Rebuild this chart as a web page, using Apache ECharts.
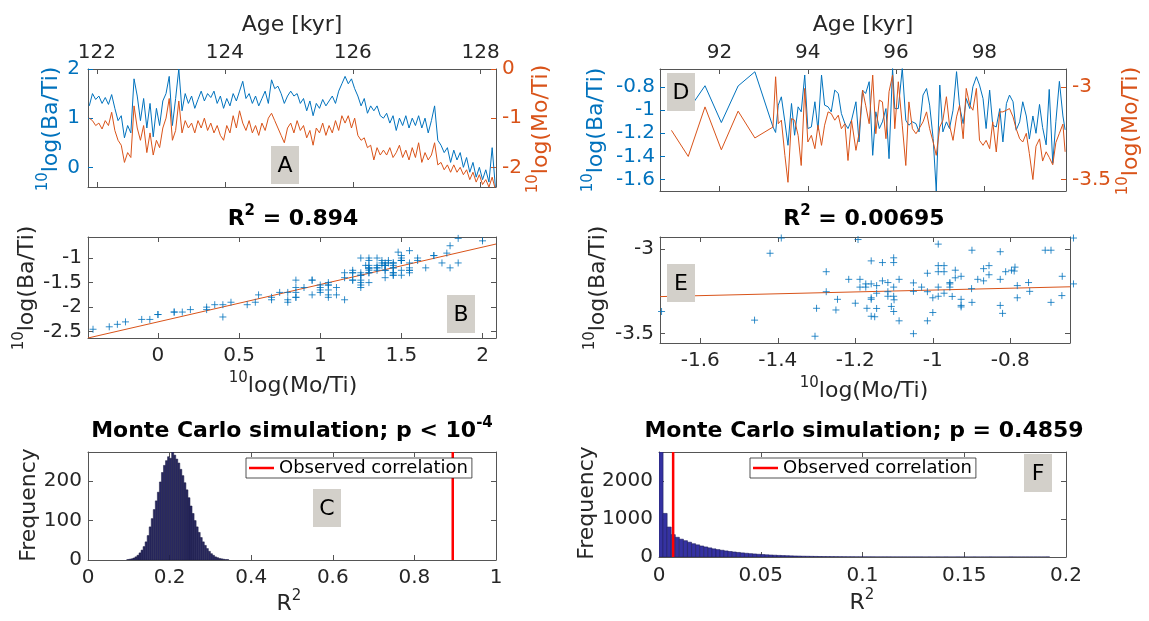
<!DOCTYPE html>
<html><head><meta charset="utf-8">
<script src="https://cdn.jsdelivr.net/npm/echarts@6/dist/echarts.min.js"></script>
<style>html,body{margin:0;padding:0;background:#fff}#c{width:1149px;height:621px}</style>
</head><body><div id="c"></div>
<script>
// ---------- Panel A: time series 121.9-128.2 kyr ----------
const ageA = [121.88,121.93,121.98,122.03,122.08,122.13,122.18,122.23,122.28,122.33,
122.38,122.43,122.48,122.53,122.58,122.63,122.68,122.73,122.78,122.83,
122.88,122.93,122.98,123.03,123.08,123.13,123.18,123.23,123.28,123.33,
123.38,123.43,123.48,123.53,123.58,123.63,123.68,123.73,123.78,123.83,
123.88,123.93,123.98,124.03,124.08,124.13,124.18,124.23,124.28,124.33,
124.38,124.43,124.48,124.53,124.58,124.63,124.68,124.73,124.78,124.83,
124.88,124.93,124.98,125.03,125.08,125.13,125.18,125.23,125.28,125.33,
125.38,125.43,125.48,125.53,125.58,125.63,125.68,125.73,125.78,125.83,
125.88,125.93,125.98,126.03,126.08,126.13,126.18,126.23,126.28,126.33,
126.38,126.43,126.48,126.53,126.58,126.63,126.68,126.73,126.78,126.83,
126.88,126.93,126.98,127.03,127.08,127.13,127.18,127.23,127.28,127.33,
127.38,127.43,127.48,127.53,127.58,127.63,127.68,127.73,127.78,127.83,
127.88,127.93,127.98,128.03,128.08,128.13,128.18,128.23];
const baA = [1.25,1.50,1.38,1.45,1.30,1.42,1.28,1.48,1.20,0.95,
1.05,0.60,0.85,0.70,1.80,1.45,0.95,1.40,0.80,1.30,
0.62,1.20,0.85,1.35,1.50,1.85,0.85,1.40,2.00,1.15,
1.50,1.30,1.45,1.20,1.38,1.55,1.35,1.50,1.42,1.55,
1.30,1.45,1.20,1.40,1.25,1.50,1.35,1.55,1.75,1.40,
1.50,1.30,1.45,1.25,1.40,1.55,1.30,1.78,1.60,1.65,
1.50,1.30,1.45,1.55,1.45,1.50,1.30,1.40,1.15,1.35,
1.05,1.30,1.20,1.38,1.25,1.35,1.45,1.30,1.55,1.70,
1.85,1.70,1.80,1.60,1.45,1.25,1.40,1.10,1.25,1.15,
1.25,1.05,1.00,1.10,0.90,1.05,0.75,1.00,0.85,1.05,
0.80,1.00,0.85,1.05,0.80,1.00,0.70,0.95,1.25,0.55,
0.45,0.30,0.40,0.10,0.35,0.15,0.30,0.00,0.20,-0.10,
0.10,-0.20,0.00,-0.25,-0.05,-0.30,0.40,-0.40];
const moA = [-1.00,-1.05,-1.15,-1.10,-1.22,-1.05,-1.15,-0.88,-1.25,-1.45,
-1.55,-1.90,-1.70,-1.80,-0.75,-1.20,-1.45,-1.15,-1.70,-1.30,
-1.75,-1.45,-1.60,-1.20,-1.00,-0.60,-1.45,-1.25,-0.65,-1.30,
-1.05,-1.20,-1.10,-1.30,-1.05,-1.20,-1.00,-1.25,-1.10,-1.30,
-1.15,-1.35,-1.45,-1.15,-1.30,-0.95,-1.20,-0.85,-1.10,-1.25,
-1.05,-1.30,-1.15,-1.35,-1.10,-1.25,-1.00,-0.90,-1.05,-1.20,
-1.35,-1.50,-1.20,-1.10,-1.30,-1.05,-1.25,-1.15,-1.40,-1.25,
-1.55,-1.20,-1.30,-1.10,-1.35,-1.15,-1.30,-1.05,-1.25,-0.95,
-1.10,-0.95,-1.20,-1.00,-1.35,-1.45,-1.40,-1.60,-1.55,-1.85,
-1.60,-1.75,-1.65,-1.75,-1.60,-1.80,-1.70,-1.55,-1.80,-1.65,
-1.85,-1.60,-1.80,-1.50,-1.90,-1.70,-1.85,-1.75,-1.50,-1.95,
-1.90,-2.05,-1.95,-2.10,-1.95,-2.10,-2.00,-2.15,-2.05,-2.25,
-2.10,-2.30,-2.15,-2.35,-2.25,-2.40,-2.20,-2.45];

// ---------- Panel D: time series 90.9-99.8 kyr ----------
const ageD = [90.91,91.29,91.67,92.04,92.42,92.80,93.21,
93.27,93.33,93.40,93.48,93.55,93.63,93.70,93.78,93.85,93.93,94.00,94.08,94.16,94.23,94.31,94.38,94.46,94.53,
94.61,94.69,94.76,94.84,94.91,94.99,95.09,95.16,95.24,95.31,95.39,95.47,95.54,95.62,95.69,95.77,95.84,95.92,95.97,
96.05,96.14,96.22,96.29,96.37,96.45,96.52,96.61,96.69,96.76,96.84,96.91,96.99,97.06,97.14,97.21,97.29,97.37,97.44,
97.52,97.59,97.67,97.74,97.82,97.89,97.97,98.04,98.12,98.19,98.27,98.35,98.42,98.50,98.57,98.65,98.72,98.80,98.87,
98.95,99.02,99.10,99.17,99.25,99.32,99.40,99.47,99.55,99.62,99.70,99.78,99.83];
const baD = [-0.90,-1.00,-0.788,-1.107,-0.79,-0.667,-1.145,
-1.193,-0.956,-0.884,-1.101,-1.304,-0.942,-1.217,-0.971,-1.014,-0.695,-1.159,-1.145,-0.927,-1.173,-0.695,-0.956,-0.971,-1.014,
-0.826,-0.855,-1.029,-1.116,-1.159,-1.087,-0.927,-1.275,-0.826,-0.855,-0.753,-1.391,-1.014,-1.159,-1.101,-0.986,-1.42,-0.637,-0.986,
-0.986,-0.637,-1.087,-1.13,-1.101,-1.116,-1.188,-0.869,-0.812,-0.956,-1.246,-1.70,-0.782,-1.188,-1.101,-1.159,-1.0,-0.666,-0.971,
-1.116,-0.899,-0.986,-0.797,-0.71,-0.782,-0.899,-1.159,-0.826,-1.13,-1.145,-0.986,-1.275,-0.942,-0.869,-0.927,-1.173,-1.101,-0.927,
-1.05,-1.25,-1.05,-1.20,-0.95,-1.15,-1.30,-0.82,-1.46,-1.10,-0.75,-1.05,-1.17];
const moD = [-3.234,-3.375,-3.107,-3.339,-3.13,-3.275,-3.216,
-2.944,-3.198,-3.179,-3.369,-3.515,-3.17,-3.179,-3.261,-3.424,-3.007,-3.297,-3.261,-3.333,-3.206,-3.315,-3.206,-3.134,-3.143,
-3.179,-3.152,-3.225,-3.198,-3.397,-3.179,-3.342,-3.252,-3.016,-3.098,-3.198,-2.935,-3.252,-3.07,-3.08,-3.279,-3.025,-2.935,-3.225,
-2.971,-3.206,-3.424,-3.08,-3.225,-3.252,-3.225,-3.188,-3.134,-3.225,-3.297,-3.369,-3.216,-3.179,-3.052,-3.206,-3.288,-3.161,-3.098,
-3.279,-3.007,-3.098,-3.125,-3.007,-3.288,-3.315,-3.288,-3.333,-3.188,-3.351,-3.134,-3.134,-3.125,-3.116,-3.161,-3.225,-3.279,-3.297,
-3.25,-3.36,-3.50,-3.32,-3.28,-3.40,-3.35,-3.38,-3.42,-3.30,-3.25,-3.20,-3.35];

// ---------- Panels B / E: least-squares fit lines (end points) ----------
const fitB = [[-0.431,-2.628],[2.083,-0.715]];
const fitE = [[-1.704,-3.281],[-0.646,-3.223]];
const r2B = '0.894', r2E = '0.00695';

// ---------- Panel C: Monte Carlo histogram ----------
const binsC = [0.095,0.100,0.105,0.110,0.115,0.120,0.125,0.130,0.135,0.140,
0.145,0.150,0.155,0.160,0.165,0.170,0.175,0.180,0.185,0.190,
0.195,0.200,0.205,0.210,0.215,0.220,0.225,0.230,0.235,0.240,
0.245,0.250,0.255,0.260,0.265,0.270,0.275,0.280,0.285,0.290,
0.295,0.300,0.305,0.310,0.315,0.320,0.325,0.330,0.335,0.340];
const binWidthC = 0.005;
const countsC = [1,2,3,5,8,12,18,25,34,46,
62,84,105,128,150,172,198,222,240,252,
262,258,274,266,256,246,230,214,196,178,
158,137,118,100,84,70,57,46,37,29,
22,16,12,8,6,4,3,2,1,1];
const obsC = 0.894;

// ---------- Panel F: Monte Carlo histogram ----------
const binsF = [0,0.002,0.004,0.006,0.008,0.010,0.012,0.014,0.016,0.018,
0.020,0.022,0.024,0.026,0.028,0.030,0.032,0.034,0.036,0.038,
0.040,0.042,0.044,0.046,0.048,0.050,0.052,0.054,0.056,0.058,
0.060,0.062,0.064,0.066,0.068,0.070,0.072,0.074,0.076,0.078,
0.080,0.082,0.084,0.086,0.088,0.090,0.092,0.094,0.096,0.098,
0.100,0.102,0.104,0.106,0.108,0.110,0.112,0.114,0.116,0.118,
0.120,0.122,0.124,0.126,0.128,0.130,0.132,0.134,0.136,0.138,
0.140,0.142,0.144,0.146,0.148,0.150,0.152,0.154,0.156,0.158,
0.160,0.162,0.164,0.166,0.168,0.170,0.172,0.174,0.176,0.178,
0.180,0.182,0.184,0.186,0.188,0.190];
const binWidthF = 0.002;
const countsF = [2770,1150,790,590,520,470,430,390,350,320,
290,265,240,215,195,178,160,145,132,120,
108,98,88,80,72,65,58,52,47,42,
38,34,30,27,24,21,19,17,15,13,
11,10,9,8,7,6,5,5,4,4,
3,3,3,2,2,2,2,1,1,1,
1,1,1,1,1,0,1,0,1,0,
1,0,0,1,0,0,0,1,0,0,
0,1,0,0,0,0,1,0,0,0,
0,0,0,0,0,1];
const obsF = 0.00695;
const pF = '0.4859';

// ---------- tick values ----------
const ticksAgeA = [122,124,126,128], ticksBaA = [0,1,2], ticksMoA = [-2,-1,0];
const ticksAgeD = [92,94,96,98], ticksBaD = [-1.6,-1.4,-1.2,-1,-0.8], ticksMoD = [-3.5,-3];
const ticksBx = [0,0.5,1,1.5,2], ticksBy = [-2.5,-2,-1.5,-1];
const ticksEx = [-1.6,-1.4,-1.2,-1,-0.8], ticksEy = [-3.5,-3];
const ticksCx = [0,0.2,0.4,0.6,0.8,1], ticksCy = [0,100,200];
const ticksFx = [0,0.05,0.1,0.15,0.2], ticksFy = [0,1000,2000];

// ---------- styling ----------
const FONT = 'DejaVu Sans';
const BOX = '#555555', TXT = '#262626';
const BLUE = '#0072BD', ORANGE = '#D95319', RED = '#FF0000';
const fmt = v => String(Math.round(v * 1e6) / 1e6);

function xAx(grid, min, max, ticks, position, labels, margin) {
  return {type:'value', gridIndex:grid, min, max, position,
    axisLine:{show:true, onZero:false, lineStyle:{color:BOX, width:1}},
    axisTick:{show:true, inside:true, length:5, customValues:ticks, lineStyle:{color:BOX}},
    axisLabel:{show:labels, customValues:ticks, margin:margin||8, color:TXT, fontSize:20, fontFamily:FONT, formatter:fmt},
    splitLine:{show:false}};
}
function yAx(grid, min, max, ticks, position, labels, color, margin) {
  return {type:'value', gridIndex:grid, min, max, position,
    axisLine:{show:true, onZero:false, lineStyle:{color:BOX, width:1}},
    axisTick:{show:true, inside:true, length:5, customValues:ticks, lineStyle:{color:color||BOX}},
    axisLabel:{show:labels, customValues:ticks, margin:margin||7, color:color||TXT, fontSize:20, fontFamily:FONT, formatter:fmt},
    splitLine:{show:false}};
}

const grids = [
  {left:88, top:69, width:408, height:118},   // A
  {left:660, top:69, width:406, height:122},  // D
  {left:88, top:237, width:408, height:101},  // B
  {left:660, top:237, width:410, height:106}, // E
  {left:88, top:452, width:408, height:108},  // C
  {left:659, top:452, width:407, height:105}  // F
];

const xAxes = [
  xAx(0, 121.86, 128.24, ticksAgeA, 'top', true, 6),
  xAx(0, 121.86, 128.24, ticksAgeA, 'bottom', false),
  xAx(1, 90.65, 99.85, ticksAgeD, 'top', true, 6),
  xAx(1, 90.65, 99.85, ticksAgeD, 'bottom', false),
  xAx(2, -0.431, 2.083, ticksBx, 'bottom', true, 8),
  xAx(2, -0.431, 2.083, ticksBx, 'top', false),
  xAx(3, -1.704, -0.646, ticksEx, 'bottom', true, 8),
  xAx(3, -1.704, -0.646, ticksEx, 'top', false),
  xAx(4, 0, 1, ticksCx, 'bottom', true, 8),
  xAx(4, 0, 1, ticksCx, 'top', false),
  xAx(5, 0, 0.2, ticksFx, 'bottom', true, 9),
  xAx(5, 0, 0.2, ticksFx, 'top', false)
];
const yMaxC = 274, yMaxF = 2770;
const yAxes = [
  yAx(0, -0.4, 2, ticksBaA, 'left', true, BLUE, 8),
  yAx(0, -2.4, 0, ticksMoA, 'right', true, ORANGE, 6),
  yAx(1, -1.70, -0.643, ticksBaD, 'left', true, BLUE, 5),
  yAx(1, -3.562, -2.902, ticksMoD, 'right', true, ORANGE, 6),
  yAx(2, -2.628, -0.572, ticksBy, 'left', true, null, 6),
  yAx(2, -2.628, -0.572, ticksBy, 'right', false),
  yAx(3, -3.555, -2.929, ticksEy, 'left', true, null, 6),
  yAx(3, -3.555, -2.929, ticksEy, 'right', false),
  yAx(4, 0, yMaxC, ticksCy, 'left', true, null, 6),
  yAx(4, 0, yMaxC, ticksCy, 'right', false),
  yAx(5, 0, yMaxF, ticksFy, 'left', true, null, 6),
  yAx(5, 0, yMaxF, ticksFy, 'right', false)
];

const PLUS = 'path://M0,5L10,5M5,0L5,10';
function lineSeries(xi, yi, data, color) {
  return {type:'line', xAxisIndex:xi, yAxisIndex:yi, data, symbol:'none', showSymbol:false,
    lineStyle:{color, width:1}, itemStyle:{color}, clip:true, z:3};
}
function scatterSeries(xi, data) {
  return {type:'scatter', xAxisIndex:xi, yAxisIndex:xi, data, symbol:PLUS, symbolSize:7, clip:false,
    itemStyle:{color:'transparent', borderColor:BLUE, borderWidth:1}, z:3};
}
function histSeries(xi, bins, width, counts, fill, stroke, lw) {
  return {type:'custom', xAxisIndex:xi, yAxisIndex:xi, clip:true,
    data: bins.map((b, i) => [b, b + width, counts[i]]),
    encode:{x:[0,1], y:2},
    renderItem:(params, api) => {
      const p0 = api.coord([api.value(0), api.value(2)]);
      const p1 = api.coord([api.value(1), 0]);
      return {type:'rect', shape:{x:p0[0], y:p0[1], width:p1[0]-p0[0], height:p1[1]-p0[1]},
        style:{fill, stroke, lineWidth:lw}};
    }, z:2};
}
function obsSeries(xi, xv, ymax) {
  return {type:'line', name:'Observed correlation', xAxisIndex:xi, yAxisIndex:xi,
    data:[[xv, 0],[xv, ymax]], symbol:'none', showSymbol:false,
    lineStyle:{color:RED, width:2.5}, itemStyle:{color:RED}, z:3};
}

const series = [
  lineSeries(0, 0, ageA.map((a, i) => [a, baA[i]]), BLUE),
  lineSeries(0, 1, ageA.map((a, i) => [a, moA[i]]), ORANGE),
  lineSeries(2, 2, ageD.map((a, i) => [a, baD[i]]), BLUE),
  lineSeries(2, 3, ageD.map((a, i) => [a, moD[i]]), ORANGE),
  scatterSeries(4, baA.map((b, i) => [b, moA[i]])),
  lineSeries(4, 4, fitB, ORANGE),
  scatterSeries(6, baD.map((b, i) => [b, moD[i]])),
  lineSeries(6, 6, fitE, ORANGE),
  histSeries(8, binsC, binWidthC, countsC, '#2a2a62', '#1b1b40', 0.5),
  obsSeries(8, obsC, yMaxC),
  histSeries(10, binsF, binWidthF, countsF, '#3532a2', '#1e1e5c', 0.6),
  obsSeries(10, obsF, yMaxF)
];

function rich(color, size, sup, weight) {
  return {
    n:{fontSize:size, fontFamily:FONT, fontWeight:weight||'normal', fill:color, lineHeight:Math.round(size*1.35)},
    s:{fontSize:sup, fontFamily:FONT, fontWeight:weight||'normal', fill:color, verticalAlign:'top', lineHeight:sup+2}
  };
}
function txt(t, x, y, o) {
  o = o || {};
  return {type:'text', x, y, rotation:o.rot||0, z:100,
    style:{text:t, align:'center', verticalAlign:'middle', fill:o.color||TXT,
      fontSize:o.size||22, fontFamily:FONT, fontWeight:o.weight||'normal', rich:o.rich}};
}
function letter(ch, x, y, w, h) {
  return {type:'group', z:100, children:[
    {type:'rect', shape:{x, y, width:w, height:h}, style:{fill:'#d3d0ca'}, z:100},
    {type:'text', x:x+w/2, y:y+h/2+1, z:101, style:{text:ch, align:'center', verticalAlign:'middle', fill:'#000', fontSize:22, fontFamily:FONT}}
  ]};
}
const R = Math.PI / 2;
const graphic = [
  txt('Age [kyr]', 292, 25),
  txt('Age [kyr]', 863, 25),
  txt('{s|10}{n|log(Ba/Ti)}', 51, 129, {rot:R, rich:rich(BLUE, 22, 15)}),
  txt('{s|10}{n|log(Mo/Ti)}', 541, 129, {rot:R, rich:rich(ORANGE, 22, 15)}),
  txt('{s|10}{n|log(Ba/Ti)}', 596, 130, {rot:R, rich:rich(BLUE, 22, 15)}),
  txt('{s|10}{n|log(Mo/Ti)}', 1131, 131, {rot:R, rich:rich(ORANGE, 22, 15)}),
  txt('{n|R}{s|2}{n| = ' + r2B + '}', 293, 219, {rich:rich('#000', 22, 15, 'bold')}),
  txt('{n|R}{s|2}{n| = ' + r2E + '}', 864, 219, {rich:rich('#000', 22, 15, 'bold')}),
  txt('{s|10}{n|log(Ba/Ti)}', 27, 288, {rot:R, rich:rich(TXT, 22, 15)}),
  txt('{s|10}{n|log(Mo/Ti)}', 293, 386, {rich:rich(TXT, 22, 15)}),
  txt('{s|10}{n|log(Ba/Ti)}', 598, 288, {rot:R, rich:rich(TXT, 22, 15)}),
  txt('{s|10}{n|log(Mo/Ti)}', 864, 391, {rich:rich(TXT, 22, 15)}),
  txt('{n|Monte Carlo simulation; p < 10}{s|-4}', 292, 431, {rich:rich('#000', 22, 15, 'bold')}),
  txt('{n|Monte Carlo simulation; p = ' + pF + '}', 864, 431, {rich:rich('#000', 22, 15, 'bold')}),
  txt('Frequency', 29, 505, {rot:R}),
  txt('Frequency', 587, 503, {rot:R}),
  txt('{n|R}{s|2}', 289, 604, {rich:rich(TXT, 22, 15)}),
  txt('{n|R}{s|2}', 862, 603, {rich:rich(TXT, 22, 15)}),
  letter('A', 271, 146, 28, 38),
  letter('B', 447, 295, 28, 38),
  letter('C', 313, 489, 28, 38),
  letter('D', 667, 73, 28, 38),
  letter('E', 667, 264, 28, 38),
  letter('F', 1024, 454, 28, 38)
];

const legendBase = {data:['Observed correlation'], orient:'horizontal', backgroundColor:'#fff',
  borderColor:'#262626', borderWidth:0.8, padding:[1,4,1,3], itemWidth:25, itemHeight:18,
  icon:'path://M0,0H25V2.5H0Z', symbolKeepAspect:true, itemStyle:{borderWidth:0},
  textStyle:{fontSize:18, fontFamily:FONT, color:'#000'}, selectedMode:false, z:10};
const legend = [
  Object.assign({}, legendBase, {left:246, top:458}),
  Object.assign({}, legendBase, {left:750, top:458})
];

const chart = echarts.init(document.getElementById('c'), null, {renderer:'canvas'});
chart.setOption({animation:false, backgroundColor:'#fff', grid:grids, xAxis:xAxes, yAxis:yAxes,
  series, graphic, legend});
</script></body></html>
